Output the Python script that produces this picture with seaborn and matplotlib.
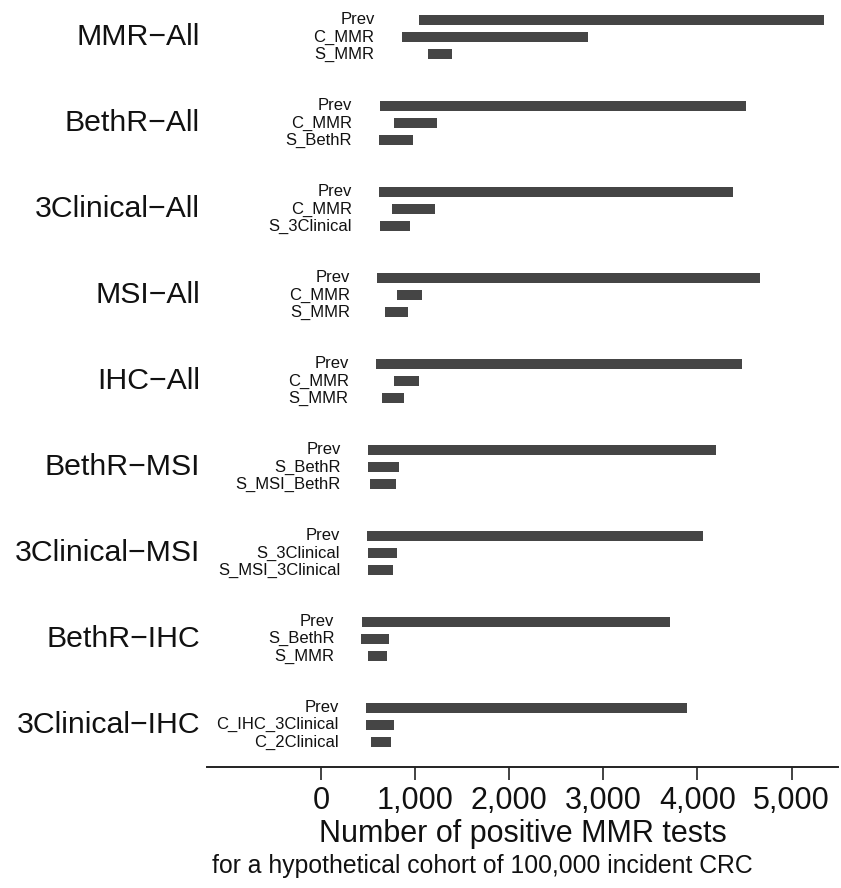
import numpy as np
import pandas as pd
import matplotlib
matplotlib.use("Agg")
import matplotlib.pyplot as plt
import matplotlib.transforms as mtransforms
from matplotlib.ticker import FuncFormatter
import seaborn as sns

# Strategy groups (screening pathway) and the three ranges shown for each
groups = ["MMR\u2212All", "BethR\u2212All", "3Clinical\u2212All", "MSI\u2212All", "IHC\u2212All",
          "BethR\u2212MSI", "3Clinical\u2212MSI", "BethR\u2212IHC", "3Clinical\u2212IHC"]

row_labels = [
    ["Prev", "C_MMR", "S_MMR"],
    ["Prev", "C_MMR", "S_BethR"],
    ["Prev", "C_MMR", "S_3Clinical"],
    ["Prev", "C_MMR", "S_MMR"],
    ["Prev", "C_MMR", "S_MMR"],
    ["Prev", "S_BethR", "S_MSI_BethR"],
    ["Prev", "S_3Clinical", "S_MSI_3Clinical"],
    ["Prev", "S_BethR", "S_MMR"],
    ["Prev", "C_IHC_3Clinical", "C_2Clinical"],
]

# Lower and upper bounds of the number of positive MMR tests
low = [
    [1047, 857, 1142],
    [626, 778, 617],
    [613, 757, 630],
    [599, 813, 678],
    [582, 778, 651],
    [504, 495, 522],
    [491, 499, 499],
    [439, 430, 499],
    [474, 482, 530],
]
high = [
    [5340, 2833, 1394],
    [4519, 1234, 973],
    [4375, 1208, 943],
    [4666, 1073, 921],
    [4475, 1038, 886],
    [4201, 830, 795],
    [4063, 803, 769],
    [3709, 726, 699],
    [3892, 773, 739],
]

# Long table: one row per range bar, grouped in blocks of three with a gap
records = []
for g, name in enumerate(groups):
    for r in range(3):
        records.append({
            "group": name,
            "label": row_labels[g][r],
            "pos": g * 5 + r,
            "low": low[g][r],
            "high": high[g][r],
        })
df = pd.DataFrame(records)
df["span"] = df["high"] - df["low"]

sns.set_theme(style="white")
plt.rcParams["font.family"] = ["Liberation Sans", "DejaVu Sans"]

fig = plt.figure(figsize=(8.41, 8.88), dpi=100)
ax = fig.add_axes([207 / 841, 121 / 888, 631 / 841, 767 / 888])

bar_color = "#454545"
sns.barplot(data=df, x="span", y="pos", orient="y", native_scale=True,
            color=bar_color, width=0.6, saturation=1, edgecolor="none",
            errorbar=None, ax=ax)

# shift each bar so it starts at its lower bound
low_by_pos = dict(zip(df["pos"], df["low"]))
for p in ax.patches:
    pos = int(round(p.get_y() + p.get_height() / 2))
    if pos in low_by_pos:
        p.set_x(low_by_pos[pos])

ax.set_xlim(-1211, 5494)
ax.set_ylim(43.45, -1.16)

# labels for each bar, right-aligned just left of the block
for g, name in enumerate(groups):
    block = df[df["group"] == name]
    x_anchor = block["low"].min()
    for _, row in block.iterrows():
        ax.annotate(row["label"], xy=(x_anchor, row["pos"]), xytext=(-27, 0),
                    textcoords="offset pixels", ha="right", va="center",
                    fontsize=12, color="#111111")
    mid = block["pos"].iloc[1]
    trans = mtransforms.blended_transform_factory(ax.transAxes, ax.transData)
    ax.text(-7 / 631, mid, name, transform=trans, ha="right", va="center",
            fontsize=21.8, color="#111111")

for side in ["top", "right", "left"]:
    ax.spines[side].set_visible(False)
ax.spines["bottom"].set_color("#222222")
ax.spines["bottom"].set_linewidth(1.4)

ax.set_yticks([])
ax.set_ylabel("")
ax.set_xticks([0, 1000, 2000, 3000, 4000, 5000])
ax.xaxis.set_major_formatter(FuncFormatter(lambda v, _: f"{int(v):,}"))
ax.tick_params(axis="x", direction="out", length=9.5, width=1.2, color="#222222",
               labelsize=22, labelcolor="#111111", pad=4, bottom=True)
ax.set_xlabel("Number of positive MMR tests", fontsize=22, color="#111111", labelpad=2)

fig.text(212 / 841, 1 - 866 / 888, "for a hypothetical cohort of 100,000 incident CRC",
         ha="left", va="center", fontsize=17.8, color="#111111")

fig.savefig("out.png", dpi=100, facecolor="white")
